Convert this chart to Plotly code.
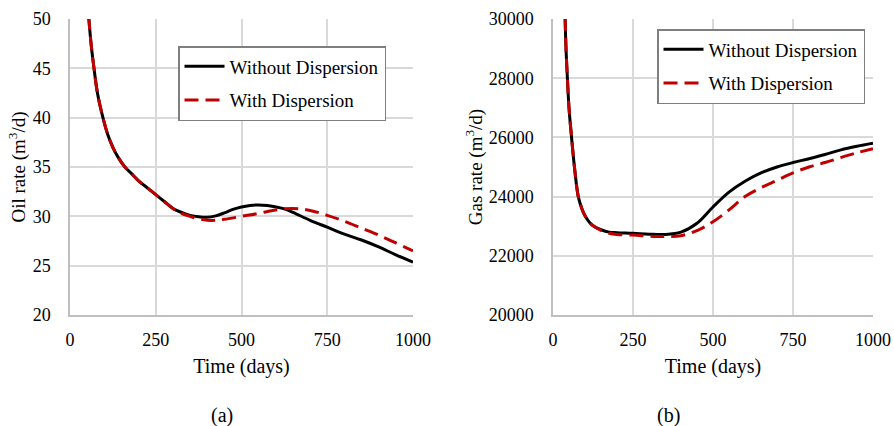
import plotly.graph_objects as go

# ---- data ----
oil_t_without = [50, 55, 62, 70, 80, 96, 110, 125, 140, 160, 180, 200, 225, 250, 275, 300, 325, 350, 375, 400, 425, 450, 475, 500, 525, 545, 575, 600, 625, 650, 700, 750, 800, 850, 900, 950, 1000]
oil_without = [52.5, 50.0, 47.3, 45.0, 42.5, 40.0, 38.3, 37.0, 36.0, 35.0, 34.3, 33.6, 32.9, 32.2, 31.5, 30.8, 30.4, 30.1, 29.95, 29.9, 30.05, 30.35, 30.7, 30.95, 31.1, 31.15, 31.1, 30.95, 30.75, 30.4, 29.6, 28.9, 28.2, 27.6, 26.9, 26.1, 25.35]

oil_t_with = [50, 55, 62, 70, 80, 96, 110, 125, 140, 160, 180, 200, 225, 250, 275, 300, 325, 350, 375, 400, 425, 450, 500, 550, 600, 650, 700, 750, 800, 850, 900, 950, 1000]
oil_with = [52.5, 50.0, 47.3, 45.0, 42.5, 40.0, 38.3, 37.0, 36.0, 35.0, 34.3, 33.6, 32.9, 32.2, 31.5, 30.8, 30.3, 30.0, 29.75, 29.6, 29.6, 29.7, 30.0, 30.3, 30.65, 30.8, 30.6, 30.1, 29.5, 28.8, 28.1, 27.3, 26.5]

gas_t_without = [35, 40, 45, 50, 58, 68, 79, 90, 100, 115, 130, 150, 175, 200, 250, 300, 350, 400, 450, 500, 550, 600, 650, 700, 750, 800, 850, 900, 950, 1000]
gas_without = [31500, 29200, 28000, 27000, 26000, 24900, 24000, 23600, 23350, 23120, 22980, 22880, 22800, 22780, 22760, 22730, 22720, 22800, 23100, 23650, 24150, 24520, 24800, 25000, 25150, 25280, 25420, 25580, 25700, 25800]

gas_t_with = [35, 40, 45, 50, 58, 68, 79, 90, 100, 115, 130, 150, 175, 200, 250, 300, 325, 350, 400, 450, 500, 550, 600, 650, 700, 750, 800, 850, 900, 950, 1000]
gas_with = [31500, 29200, 28000, 27000, 26000, 24900, 24000, 23600, 23350, 23120, 22980, 22860, 22760, 22720, 22700, 22660, 22650, 22650, 22680, 22850, 23150, 23550, 24000, 24300, 24550, 24800, 25000, 25150, 25320, 25480, 25620]

x_ticks = [0, 250, 500, 750, 1000]
oil_ticks = [20, 25, 30, 35, 40, 45, 50]
gas_ticks = [20000, 22000, 24000, 26000, 28000, 30000]

FONT = "Liberation Serif, Times New Roman, serif"
GRID = "#d9d9d9"
RED = "#c00000"
DASH = "14px,7px"

fig = go.Figure()

fig.add_trace(go.Scatter(x=oil_t_without, y=oil_without, mode="lines", name="Without Dispersion",
                         line=dict(color="black", width=3, shape="spline", smoothing=1.0),
                         xaxis="x", yaxis="y", legend="legend", legendgroup="a1"))
fig.add_trace(go.Scatter(x=oil_t_with, y=oil_with, mode="lines", name="With Dispersion",
                         line=dict(color=RED, width=3, dash=DASH, shape="spline", smoothing=1.0),
                         xaxis="x", yaxis="y", legend="legend", legendgroup="a2"))
fig.add_trace(go.Scatter(x=gas_t_without, y=gas_without, mode="lines", name="Without Dispersion",
                         line=dict(color="black", width=3, shape="spline", smoothing=1.0),
                         xaxis="x2", yaxis="y2", legend="legend2", legendgroup="b1"))
fig.add_trace(go.Scatter(x=gas_t_with, y=gas_with, mode="lines", name="With Dispersion",
                         line=dict(color=RED, width=3, dash=DASH, shape="spline", smoothing=1.0),
                         xaxis="x2", yaxis="y2", legend="legend2", legendgroup="b2"))

W, H = 894, 426
ydom = [1 - 315 / H, 1 - 19 / H]
axis_common = dict(showgrid=True, gridcolor=GRID, gridwidth=1.5, showline=True, linecolor="#bfbfbf",
                   linewidth=1.5, ticks="", zeroline=False, automargin=False,
                   tickfont=dict(family=FONT, size=18, color="black"))
legend_common = dict(xanchor="left", yanchor="top", bgcolor="white", bordercolor="#7f7f7f",
                     borderwidth=1.5, font=dict(family=FONT, size=19), tracegroupgap=6,
                     traceorder="grouped", itemwidth=40)

fig.update_layout(
    width=W, height=H, margin=dict(l=0, r=0, t=0, b=0),
    paper_bgcolor="white", plot_bgcolor="white",
    font=dict(family=FONT, size=17, color="black"),
    xaxis=dict(domain=[70 / W, 413 / W], range=[0, 1000], tickvals=x_ticks, anchor="y", ticklabelstandoff=8,
               title=dict(text="Time (days)", font=dict(size=20), standoff=10), **axis_common),
    yaxis=dict(domain=ydom, range=[20, 50], tickvals=oil_ticks, anchor="x", ticklabelstandoff=14,
               title=dict(text="Oil rate (m<sup>3</sup>/d)", font=dict(size=19), standoff=2), **axis_common),
    xaxis2=dict(domain=[553 / W, 873 / W], range=[0, 1000], tickvals=x_ticks, anchor="y2", ticklabelstandoff=8,
                title=dict(text="Time (days)", font=dict(size=20), standoff=10), **axis_common),
    yaxis2=dict(domain=ydom, range=[20000, 30000], tickvals=gas_ticks, tickformat="d", anchor="x2",
                ticklabelstandoff=14,
                title=dict(text="Gas rate (m<sup>3</sup>/d)", font=dict(size=19), standoff=1), **axis_common),
    legend=dict(x=178 / W, y=1 - 46 / H, **legend_common),
    legend2=dict(x=657 / W, y=1 - 29 / H, **legend_common),
    annotations=[
        dict(text="(a)", x=222 / W, y=1 - 415 / H, xref="paper", yref="paper", showarrow=False,
             xanchor="center", yanchor="middle", font=dict(family=FONT, size=20)),
        dict(text="(b)", x=668 / W, y=1 - 415 / H, xref="paper", yref="paper", showarrow=False,
             xanchor="center", yanchor="middle", font=dict(family=FONT, size=20)),
    ],
)

fig.write_html("out.html")
